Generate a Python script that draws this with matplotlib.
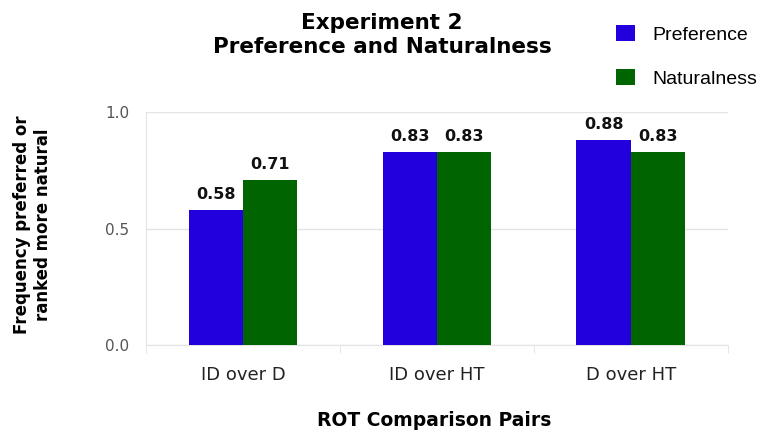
import numpy as np
import matplotlib.pyplot as plt

categories = ['ID over D', 'ID over HT', 'D over HT']
preference = [0.58, 0.83, 0.88]
naturalness = [0.71, 0.83, 0.83]
series_names = ['Preference', 'Naturalness']
colors = ['#2200dd', '#006400']

fig = plt.figure(figsize=(7.66, 4.37), dpi=100)
ax = fig.add_axes([0.1906, 0.21, 0.7594, 0.533])

x = np.arange(len(categories))
w = 0.28
b1 = ax.bar(x - w / 2, preference, w, color=colors[0], label=series_names[0], zorder=3)
b2 = ax.bar(x + w / 2, naturalness, w, color=colors[1], label=series_names[1], zorder=3)

for bars, vals in [(b1, preference), (b2, naturalness)]:
    for r, v in zip(bars, vals):
        ax.text(r.get_x() + r.get_width() / 2, v + 0.035, '%.2f' % v, ha='center', va='bottom',
                fontsize=11.5, fontweight='bold', color='#111111')

ax.set_xlim(-0.5, 2.5)
ax.set_ylim(0, 1.0)
ax.set_yticks([0, 0.5, 1.0])
ax.set_yticklabels(['0.0', '0.5', '1.0'], fontsize=11, color='#555555')
ax.yaxis.grid(True, color='#e4e4e4', lw=1, zorder=0)
ax.tick_params(axis='y', length=0, pad=12)

ax.set_xticks(x)
ax.set_xticklabels(categories, fontsize=13, color='#222222')
ax.set_xticks([-0.5, 0.5, 1.5, 2.5], minor=True)
ax.tick_params(axis='x', which='major', length=0, pad=15)
ax.tick_params(axis='x', which='minor', length=6, color='#e0e0e0')

for s in ['top', 'right']:
    ax.spines[s].set_visible(False)
ax.spines['left'].set_color('#e4e4e4')
ax.spines['bottom'].set_color('#e4e4e4')

fig.text(0.567, 0.037, 'ROT Comparison Pairs', ha='center', va='center',
         fontsize=13.5, fontweight='bold')
fig.text(0.042, 0.485, 'Frequency preferred or\nranked more natural', rotation=90,
         ha='center', va='center', fontsize=12, fontweight='bold')

fig.text(0.499, 0.92, 'Experiment 2\nPreference and Naturalness', ha='center', va='center',
         fontsize=15.5, fontweight='bold', linespacing=1.2)

leg = fig.legend(handles=[b1, b2], loc='upper left', bbox_to_anchor=(0.804, 0.943),
                 frameon=False, prop={'family': 'Liberation Sans', 'size': 14},
                 handlelength=1.0, handleheight=0.9, labelspacing=1.3, handletextpad=0.9,
                 borderpad=0, borderaxespad=0)

fig.savefig('out.png', dpi=100)
